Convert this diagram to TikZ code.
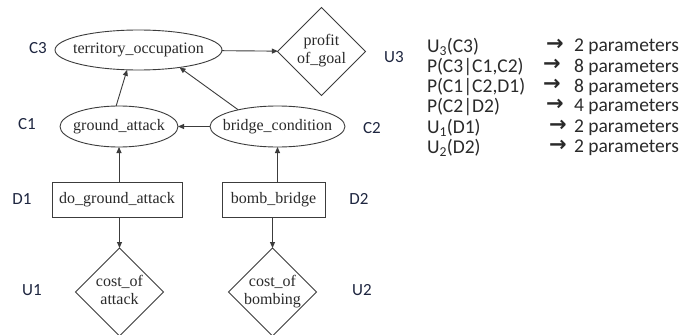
\documentclass[tikz,border=0pt]{standalone}
\usepackage{fontspec}
\setmainfont{Liberation Serif}
\newfontfamily\calfont{Carlito}
\newfontfamily\arrfont{DejaVu Sans}
\usetikzlibrary{shapes.geometric,arrows.meta}
\definecolor{lineg}{HTML}{3C3C3C}
\definecolor{txtc}{HTML}{2A2A2A}
\definecolor{lblc}{HTML}{1E2640}
\newcommand\zw[1]{\makebox[0pt]{#1}}
\newcommand\zwt[2]{\makebox[0pt]{\smash{\raisebox{-4pt}{\begin{tabular}{@{}c@{}}#1\\[-1pt]#2\end{tabular}}}}}
\tikzset{
  every node/.style={inner sep=0pt, outer sep=0pt},
  chance/.style={ellipse, draw=lineg, line width=0.9pt, font=\fontsize{16}{18}\selectfont, text=txtc},
  decision/.style={rectangle, draw=lineg, line width=0.9pt, minimum height=35pt, font=\fontsize{16}{18}\selectfont, text=txtc},
  utility/.style={diamond, aspect=1, draw=lineg, line width=0.9pt, minimum width=88pt, minimum height=88pt, font=\fontsize{16}{19}\selectfont, text=txtc},
  edge/.style={draw=lineg, line width=0.9pt, -{Triangle[length=6pt,width=5pt]}},
  vlabel/.style={font=\calfont\fontsize{17}{19}\selectfont, text=lblc},
  ptext/.style={font=\calfont\fontsize{19.5}{20}\selectfont, text=txtc, anchor=west},
  parrow/.style={font=\arrfont\bfseries\fontsize{21}{22}\selectfont, text=txtc, anchor=west},
  pnum/.style={font=\calfont\fontsize{19.5}{20}\selectfont, text=txtc, anchor=east}
}
\begin{document}
\begin{tikzpicture}[x=1pt,y=-1pt]
\useasboundingbox (0,0) rectangle (684,334);
\fill[white] (0,0) rectangle (684,334);

% graph nodes
\node[chance, minimum width=167pt, minimum height=40pt] (ter) at (138.5,50) {\zw{territory\_occupation}};
\node[utility] (pog) at (321.5,51.5) {\zwt{profit}{of\_goal}};
\node[chance, minimum width=118pt, minimum height=41pt] (ga) at (119,126.5) {\zw{ground\_attack}};
\node[chance, minimum width=135pt, minimum height=41pt] (bc) at (277.5,126.5) {\zw{bridge\_condition}};
\node[decision, minimum width=130pt] (dga) at (117,199.5) {do\_ground\_attack};
\node[decision, minimum width=103pt] (bb) at (273.5,199.5) {bomb\_bridge};
\node[utility] (coa) at (119.5,292) {\zwt{cost\_of}{attack}};
\node[utility] (cob) at (272.5,292) {\zwt{cost\_of}{bombing}};

% connectors
\draw[edge] (ter) -- (pog);
\draw[edge] (ga.98) -- (ter.240);
\draw[edge] (bc.157) -- (ter.-23);
\draw[edge] (bc) -- (ga);
\draw[edge] (dga.north -| ga.south) -- (ga.south);
\draw[edge] (bb.north -| bc.south) -- (bc.south);
\draw[edge] (dga.south -| coa.north) -- (coa.north);
\draw[edge] (bb.south -| cob.north) -- (cob.north);

% variable labels
\node[vlabel] (lC3) at (38,48) {C3};
\node[vlabel] (lU3) at (394,57) {U3};
\node[vlabel] (lC1) at (27,124) {C1};
\node[vlabel] (lC2) at (372,128) {C2};
\node[vlabel] (lD1) at (22,199) {D1};
\node[vlabel] (lD2) at (359,199) {D2};
\node[vlabel] (lU1) at (32,290) {U1};
\node[vlabel] (lU2) at (362,290) {U2};

% parameter list
\node[ptext] (p1) at (427,47) {U\textsubscript{3}(C3)};
\node[ptext] (p2) at (427,67) {P(C3|C1,C2)};
\node[ptext] (p3) at (427,87) {P(C1|C2,D1)};
\node[ptext] (p4) at (427,107) {P(C2|D2)};
\node[ptext] (p5) at (427,128) {U\textsubscript{1}(D1)};
\node[ptext] (p6) at (427,148) {U\textsubscript{2}(D2)};
\node[parrow] (a1) at (546,45) {→};
\node[parrow] (a2) at (543,65) {→};
\node[parrow] (a3) at (543,85) {→};
\node[parrow] (a4) at (546,105) {→};
\node[parrow] (a5) at (549,126) {→};
\node[parrow] (a6) at (549,146) {→};
\node[pnum] (n1) at (679,47) {2 parameters};
\node[pnum] (n2) at (679,67) {8 parameters};
\node[pnum] (n3) at (679,87) {8 parameters};
\node[pnum] (n4) at (679,107) {4 parameters};
\node[pnum] (n5) at (679,128) {2 parameters};
\node[pnum] (n6) at (679,148) {2 parameters};
\end{tikzpicture}
\end{document}
